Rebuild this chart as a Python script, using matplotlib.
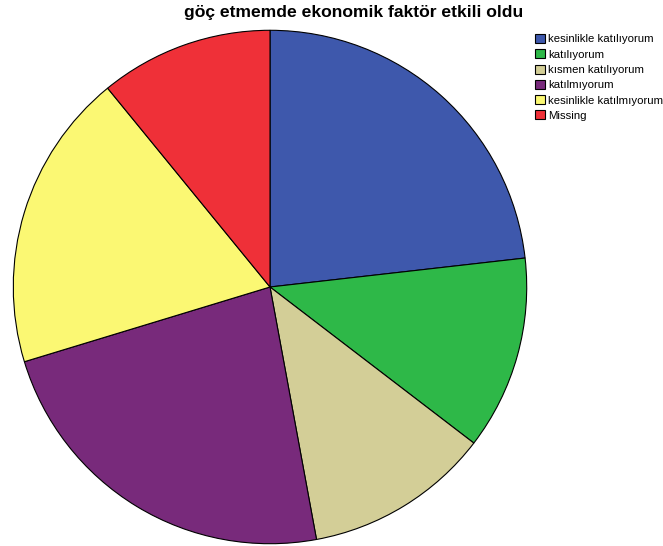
import matplotlib
matplotlib.use('Agg')
import matplotlib.pyplot as plt

labels = ['kesinlikle katılıyorum', 'katılıyorum', 'kısmen katılıyorum',
          'katılmıyorum', 'kesinlikle katılmıyorum', 'Missing']
shares = [23.2, 12.2, 11.7, 23.2, 18.8, 10.9]
colors = ['#3e58ac', '#2eb848', '#d3ce97', '#782a7b', '#fbf873', '#ef3038']
title = 'göç etmemde ekonomik faktör etkili oldu'

plt.rcParams['font.family'] = ['Liberation Sans', 'DejaVu Sans']

fig = plt.figure(figsize=(6.63, 5.46), dpi=100)
ax = fig.add_axes([12 / 663, 1 / 546, 516 / 663, 516 / 546])

wedges, _ = ax.pie(shares, colors=colors, startangle=90, counterclock=False,
                   radius=1, wedgeprops=dict(edgecolor='black', linewidth=0.8))
ax.set_xlim(-1.005, 1.005)
ax.set_ylim(-1.005, 1.005)
ax.set_aspect('auto')
ax.axis('off')

fig.text(354 / 663, 1 - 13 / 546, title, ha='center', va='center',
         fontsize=12.6, fontweight='bold')

fig.legend(wedges, labels, loc='upper left',
           bbox_to_anchor=(527 / 663, 1 - 26 / 546), frameon=False,
           fontsize=8.2, handlelength=0.85, handleheight=0.85,
           handletextpad=0.3, labelspacing=0.42, borderpad=0.2)

fig.savefig('out.png', dpi=100)
